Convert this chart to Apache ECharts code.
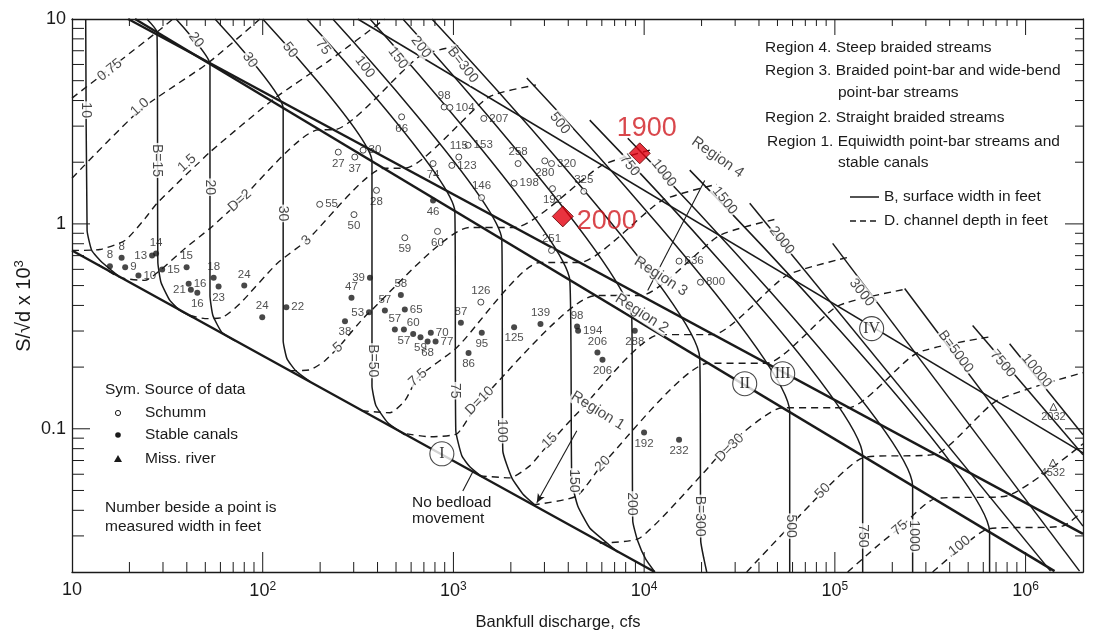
<!DOCTYPE html>
<html><head><meta charset="utf-8">
<script src="https://cdn.jsdelivr.net/npm/echarts/dist/echarts.min.js"></script>
<style>html,body{margin:0;padding:0;background:#fff}#c{width:1117px;height:635px}</style>
</head><body><div id="c"></div>
<script>
// ---------- axis ranges & tick labels ----------
const xRange = [10, 2000000];
const yRange = [0.02, 10];
const xTickLabels = {1:'10', 2:'{b|10}{s|2}', 3:'{b|10}{s|3}', 4:'{b|10}{s|4}', 5:'{b|10}{s|5}', 6:'{b|10}{s|6}'};
const yTickLabels = {'-1':'0.1', '0':'1', '1':'10'};

// ---------- data points [Q cfs, S/sqrt(d) x10^3, width label] ----------
const canalPts = [
 [15.8,0.622,'8'],[18.2,0.683,'8'],[19.0,0.615,'9'],[26.3,0.701,'13'],[27.6,0.717,'14'],
 [22.3,0.560,'10'],[29.7,0.599,'15'],[39.9,0.615,'15'],[40.9,0.510,'16'],[42.0,0.477,'21'],
 [45.4,0.461,'16'],[55.3,0.546,'18'],[58.7,0.495,'23'],[80.0,0.500,'24'],[99.4,0.350,'24'],
 [133,0.392,'22'],[782,1.30,'46'],[365,0.546,'39'],[292,0.436,'47'],[361,0.370,'53'],
 [437,0.378,'57'],[530,0.450,'58'],[556,0.382,'65'],[270,0.335,'38'],[493,0.305,'57'],
 [550,0.305,'57'],[615,0.290,'60'],[672,0.280,'59'],[761,0.294,'70'],[732,0.267,'68'],
 [806,0.267,'77'],[1094,0.329,'87'],[1408,0.294,'95'],[1200,0.2345,'86'],[2080,0.313,'125'],
 [2860,0.325,'139'],[4450,0.316,'98'],[4505,0.301,'194'],[5690,0.236,'206'],[6046,0.2175,'206'],
 [8930,0.301,'288'],[9990,0.0959,'192'],[15240,0.0884,'232']
];
const canalLabelPos = ['top','top','right','left','top','right','right','top','right','left',
 'bottom','top','bottom','top','top','right','bottom','left','top','left',
 'top','top','right','bottom','top','bottom','top','bottom','right','bottom',
 'right','top','bottom','bottom','bottom','top','top','right','top','bottom',
 'bottom','bottom','bottom'];
const schummPts = [
 [199,1.246,'55'],[301,1.11,'50'],[556,0.856,'59'],[825,0.919,'60'],[1392,0.415,'126'],
 [3268,0.742,'251'],[15240,0.658,'636'],[19730,0.519,'800'],[894,3.72,'98'],[958,3.70,'104'],
 [535,3.33,'66'],[1443,3.27,'207'],[1194,2.42,'153'],[1067,2.12,'115'],[981,1.93,'123'],
 [782,1.97,'74'],[249,2.24,'27'],[304,2.12,'37'],[336,2.29,'30'],[395,1.458,'28'],
 [1404,1.343,'146'],[2183,1.97,'258'],[2080,1.58,'198'],[3013,2.03,'280'],[3268,1.97,'320'],
 [3307,1.486,'192'],[4825,1.442,'325']
];
const schummLabelPos = ['right','bottom','bottom','bottom','top','top','right','right','top','right',
 'bottom','right','right','top','right','bottom','bottom','bottom','right','bottom',
 'top','top','right','bottom','right','bottom','top'];
const missPts = [[1400000,0.128,'2032'],[1390000,0.0684,'4532']];
const redPts = [[9480,2.21,'1900'],[3745,1.088,'2000']];

// ---------- boundary lines ----------
const lineI   = [[10,0.742],[11370,0.02]];
const lineII  = [[21.4,10],[1419000,0.0202]];
const lineIII = [[19.7,10],[2000000,0.0307]];
const lineIV  = [[315,10],[2000000,0.0763]];

// ---------- B curves (surface width, ft) ----------
const b10 = [[11.8,10],[12.0,0.929],[12.7,0.742],[14.4,0.648],[17.4,0.560]];
const b15 = [[24.7,10],[27.9,8.64],[28.2,0.648],[29.3,0.518],[32.6,0.423],[36.8,0.378],[43.1,0.349]];
const b20 = [[35.1,10],[52.9,6.03],[52.9,0.447],[54.8,0.357],[61.1,0.295],[71.5,0.269]];
const b30 = [[56.2,10],[128,3.67],[128,0.269],[134,0.220],[149,0.192],[177,0.170]];
const b50 = [[100,10],[374,2.02],[374,0.162],[392,0.130],[453,0.107],[556,0.0935]];
const b75 = [[170,10],[1017,1.15],[1029,0.0978],[1107,0.0738],[1219,0.0652],[1408,0.0583]];
const b100 = [[233,10],[1793,0.840],[1815,0.0780],[2024,0.0576],[2311,0.0481],[2671,0.0425]];
const b150 = [[365,10],[4075,0.530],[4174,0.0557],[4487,0.0420],[5185,0.0328],[6215,0.0283],[7271,0.0250]];
const b200 = [[543,10],[8610,0.349],[8714,0.0355],[9258,0.0283],[10190,0.0231],[11370,0.02]];
const b300 = [[771,10],[19560,0.2225],[19800,0.0283],[20530,0.0234],[21290,0.02]];
const b500 = [[2425,5.15],[57970,0.121],[57970,0.02]];
const b750 = [[5185,3.21],[139900,0.0738],[139900,0.02]];
const b1000 = [[8204,2.62],[255700,0.0526],[255700,0.02]];
const b1500 = [[17340,1.83],[647500,0.0313],[647500,0.02]];
const b2000 = [[35770,1.26],[1352000,0.0202]];
const b3000 = [[97380,0.803],[1919000,0.0202]];
const b5000 = [[232200,0.484],[2000000,0.0335]];
const b7500 = [[527700,0.319],[2000000,0.0746]];
const b10000 = [[824400,0.260],[2000000,0.0935]];

// ---------- D curves (channel depth, ft) ----------
const d075 = [[10,4.11],[27.9,8.64],[33.8,10]];
const d1 = [[10,1.67],[22.7,3.59],[51.6,6.09],[96.7,10]];
const d1p5 = [[10,0.742],[14.0,0.750],[18.95,0.830],[24.1,1.06],[27.9,1.26],[52.9,2.24],[116,4.11],[225,6.30],[437,10]];
const d2 = [[13.7,0.634],[17.8,0.548],[24.1,0.530],[28.9,0.592],[39.1,0.759],[52.9,0.951],[69.8,1.20],[197,2.88],[236,2.88],[667,6.59],[1120,7.46]];
const d3 = [[41.5,0.357],[49.8,0.345],[61.1,0.349],[75.9,0.408],[119,0.641],[170,0.830],[432,1.87],[556,1.87],[1532,4.16],[2704,4.76]];
const d5 = [[139,0.192],[177,0.194],[212,0.215],[254,0.2545],[352,0.361],[1219,0.961],[2098,0.961],[5995,1.93],[11090,2.31]];
const d7p5 = [[331,0.1225],[464,0.1197],[556,0.137],[651,0.1776],[1042,0.249],[2837,0.648],[4597,0.648],[12370,1.30],[24020,1.56]];
const d10 = [[570,0.0945],[752,0.0914],[1042,0.0945],[1219,0.1158],[1375,0.137],[5577,0.447],[9598,0.447],[24900,0.879],[50150,1.06]];
const d15 = [[1375,0.0589],[1975,0.0576],[2514,0.0659],[2942,0.078],[4435,0.1184],[12070,0.288],[22880,0.288],[55890,0.560],[116700,0.686]];
const d20 = [[2607,0.0425],[4435,0.047],[6067,0.0674],[21810,0.2089],[43900,0.2089],[103400,0.397],[235000,0.480]];
const d30 = [[5852,0.0277],[9483,0.0293],[20280,0.0603],[28100,0.0845],[53270,0.1267],[118100,0.1267],[268400,0.2337],[663300,0.282]];
const d50 = [[34500,0.02],[85270,0.0486],[139900,0.0721],[341600,0.0755],[704700,0.137],[2000000,0.1878]];
const d75 = [[116700,0.02],[171700,0.0274],[218600,0.0328],[333500,0.0455],[795100,0.047],[2000000,0.0845]];
const d100 = [[325500,0.02],[451000,0.0259],[632100,0.0324],[1563000,0.0335],[2000000,0.0397]];

// ---------- leaders ----------
const leaderBedload = [[1120,0.0497],[1264,0.0617]];
const leaderRegion1 = [[4435,0.0978],[2736,0.0435]];
const leaderRegion4 = [[20770,1.63],[10440,0.473]];

// ---------- curve labels [Q, S, text, rotation] ----------
const bLabels = [
 [11.8,3.59,'10',-90],[27.9,2.04,'B=15',-90],[44.7,7.90,'20',-52],[52.9,1.51,'20',-90],
 [85.7,6.30,'30',-55],[128,1.125,'30',-90],[139,7.05,'50',-52],[378,0.215,'B=50',-90],
 [207,7.30,'75',-52],[1017,0.1534,'75',-90],[343,5.83,'100',-53],[1793,0.0978,'100',-90],
 [511,6.45,'150',-53],[4276,0.0557,'150',-90],[675,7.30,'200',-53],[8610,0.0430,'200',-90],
 [1120,5.96,'B=300',-52],[19560,0.0375,'B=300',-90],[3612,3.10,'500',-52],[58670,0.0335,'500',-90],
 [8405,1.93,'750',-52],[139900,0.0300,'750',-90],[12670,1.77,'1000',-52],[258800,0.0300,'1000',-90],
 [26450,1.30,'1500',-52],[52640,0.830,'2000',-52],[138200,0.462,'3000',-52],[429800,0.2379,'B=5000',-53],
 [757700,0.2079,'7500',-50],[1142000,0.1921,'10000',-51]
];
const dLabels = [
 [15.8,5.63,'0.75',38],[22.7,3.71,'1.0',42],[40.1,1.98,'1.5',42],[75.9,1.30,'D=2',42],
 [170,0.830,'3',42],[248,0.2489,'5',40],[651,0.1776,'7.5',42],[1375,0.137,'D=10',45],
 [3201,0.0874,'15',45],[6067,0.0674,'20',45],[28100,0.0807,'D=30',45],[86330,0.0497,'50',45],
 [218600,0.0328,'75',40],[451000,0.0268,'100',38]
];
const regionLabels = [
 [5713,0.1225,'Region 1',-32],[9714,0.365,'Region 2',-33],[12220,0.554,'Region 3',-33],[24300,2.11,'Region 4',-35]
];
const romanMarks = [[869.6,0.0755,'I'],[33680,0.166,'II'],[53270,0.1857,'III'],[155900,0.3083,'IV']];

// ---------- build ----------
const FONT = 'Liberation Sans, Arial, Helvetica, sans-serif';
const INK = '#1a1a1a';
const TXT = 15.5;
const series = [];
function lineSeries(data, opts) {
  return Object.assign({type:'line', data, showSymbol:false, symbol:'none', silent:true, clip:true,
    animation:false, lineStyle:{color:INK, width:1.5}, z:2}, opts);
}
[lineI, lineII, lineIII].forEach(d => series.push(lineSeries(d, {lineStyle:{color:INK, width:2.4}, z:3})));
series.push(lineSeries(lineIV, {lineStyle:{color:INK, width:1.6}, z:3}));
[b10,b15,b20,b30,b50,b75,b100,b150,b200,b300,b500,b750,b1000,b1500,b2000,b3000,b5000,b7500,b10000]
  .forEach(d => series.push(lineSeries(d, {smooth:0.15, lineStyle:{color:INK, width:1.5}})));
[d075,d1,d1p5,d2,d3,d5,d7p5,d10,d15,d20,d30,d50,d75,d100]
  .forEach(d => series.push(lineSeries(d, {smooth:0.2, lineStyle:{color:INK, width:1.4, type:[7,5]}})));
series.push(lineSeries(leaderBedload, {lineStyle:{color:INK, width:1.1}}));
series.push(lineSeries(leaderRegion4, {lineStyle:{color:INK, width:1.1}}));
series.push(lineSeries(leaderRegion1.map((p,i)=>({value:p, symbol: i===1?'arrow':'none', symbolSize:[6,9], symbolRotate:150})),
  {lineStyle:{color:INK, width:1.1}, showSymbol:true, itemStyle:{color:INK}}));

function textSeries(arr, fontSize, z) {
  return {type:'scatter', silent:true, animation:false, z, symbolSize:1, itemStyle:{color:'rgba(0,0,0,0)'},
    data: arr.map(a => ({value:[a[0],a[1]], name:a[2], label:{rotate:a[3]}})),
    label:{show:true, position:'inside', formatter:p=>p.name, color:INK, fontFamily:FONT, fontSize,
      backgroundColor:'#fff', padding:[0,1]}};
}
series.push(textSeries(bLabels, 14, 6));
series.push(textSeries(dLabels, 14, 6));
series.push(textSeries(regionLabels, 15, 6));

series.push({type:'scatter', silent:true, animation:false, z:7, symbol:'circle', symbolSize:24,
  itemStyle:{color:'#fff', borderColor:INK, borderWidth:1.1},
  data: romanMarks.map(a=>({value:[a[0],a[1]], name:a[2]})),
  label:{show:true, position:'inside', formatter:p=>p.name, color:'#000', fontFamily:'Liberation Serif, DejaVu Serif, serif', fontSize:16}});

function ptLabel(pos){ return {position:pos, distance:2}; }
series.push({type:'scatter', silent:true, animation:false, z:8, symbol:'circle', symbolSize:6,
  itemStyle:{color:INK},
  data: canalPts.map((a,i)=>({value:[a[0],a[1]], name:a[2], label:ptLabel(canalLabelPos[i])})),
  label:{show:true, formatter:p=>p.name, color:'#222', fontFamily:FONT, fontSize:11.5}});
series.push({type:'scatter', silent:true, animation:false, z:8, symbol:'circle', symbolSize:6,
  itemStyle:{color:'#fff', borderColor:INK, borderWidth:1},
  data: schummPts.map((a,i)=>({value:[a[0],a[1]], name:a[2], label:ptLabel(schummLabelPos[i])})),
  label:{show:true, formatter:p=>p.name, color:'#222', fontFamily:FONT, fontSize:11.5}});
series.push({type:'scatter', silent:true, animation:false, z:8, symbol:'triangle', symbolSize:7,
  itemStyle:{color:'#fff', borderColor:INK, borderWidth:1},
  data: missPts.map(a=>({value:[a[0],a[1]], name:a[2]})),
  label:{show:true, position:'bottom', distance:1, formatter:p=>p.name, color:'#222', fontFamily:FONT, fontSize:11}});
series.push({type:'scatter', silent:true, animation:false, z:9, symbol:'diamond', symbolSize:[21,21],
  itemStyle:{color:'#e3000f', borderColor:'#5a0000', borderWidth:1},
  data: [
    {value:[redPts[0][0],redPts[0][1]], name:redPts[0][2], label:{position:'top', distance:0, offset:[7,0]}},
    {value:[redPts[1][0],redPts[1][1]], name:redPts[1][2], label:{position:'right', distance:3, offset:[0,5]}}
  ],
  label:{show:true, formatter:p=>p.name, color:'#d0191f', fontFamily:FONT, fontSize:27}});

// ticks (inside, with log minor ticks)
series.push({type:'custom', silent:true, animation:false, z:10, data:[0],
  renderItem(params, api) {
    const ch = [];
    const st = {stroke:INK, lineWidth:1};
    for (let e=1; e<=6; e++) for (let m=1; m<10; m++) {
      const v = m*Math.pow(10,e);
      if (v<=xRange[0] || v>=xRange[1]) continue;
      const b = api.coord([v, yRange[0]]), t = api.coord([v, yRange[1]]);
      const maj = m===1;
      ch.push({type:'line', shape:{x1:b[0],y1:b[1],x2:b[0],y2:b[1]-(maj?20:10)}, style:st});
      ch.push({type:'line', shape:{x1:t[0],y1:t[1],x2:t[0],y2:t[1]+(maj?16:7)}, style:st});
    }
    for (let e=-2; e<=1; e++) for (let m=1; m<10; m++) {
      const v = m*Math.pow(10,e);
      if (v<=yRange[0]*1.0001 || v>=yRange[1]*0.9999) continue;
      const l = api.coord([xRange[0], v]), r = api.coord([xRange[1], v]);
      const maj = m===1;
      ch.push({type:'line', shape:{x1:l[0],y1:l[1],x2:l[0]+(maj?18:12),y2:l[1]}, style:st});
      ch.push({type:'line', shape:{x1:r[0],y1:r[1],x2:r[0]-(maj?18:8),y2:r[1]}, style:st});
    }
    return {type:'group', children:ch};
  }});

function isPow(v){ const l=Math.log10(v); return Math.abs(l-Math.round(l))<1e-6; }
const axisLineStyle = {show:true, lineStyle:{color:INK, width:1.3}};
const option = {
  backgroundColor:'#fff',
  animation:false,
  grid:{left:72, right:34, top:19, bottom:63},
  xAxis:[
    {type:'log', logBase:10, min:xRange[0], max:xRange[1], axisLine:axisLineStyle, axisTick:{show:false}, splitLine:{show:false},
     axisLabel:{margin:9, color:INK, fontFamily:FONT, fontSize:18,
       formatter:v=> isPow(v) ? (xTickLabels[Math.round(Math.log10(v))]||'') : '',
       rich:{b:{fontSize:18, fontFamily:FONT, color:INK}, s:{fontSize:12, fontFamily:FONT, color:INK, padding:[0,0,9,0]}}}},
    {type:'log', logBase:10, position:'top', min:xRange[0], max:xRange[1], axisLine:axisLineStyle, axisTick:{show:false}, axisLabel:{show:false}, splitLine:{show:false}}
  ],
  yAxis:[
    {type:'log', logBase:10, min:yRange[0], max:yRange[1], axisLine:axisLineStyle, axisTick:{show:false}, splitLine:{show:false},
     axisLabel:{margin:6, color:INK, fontFamily:FONT, fontSize:18,
       formatter:v=> isPow(v) ? (yTickLabels[String(Math.round(Math.log10(v)))]||'') : ''}},
    {type:'log', logBase:10, position:'right', min:yRange[0], max:yRange[1], axisLine:axisLineStyle, axisTick:{show:false}, axisLabel:{show:false}, splitLine:{show:false}}
  ],
  series,
  graphic:[
    {type:'text', x:558, y:622, style:{text:'Bankfull discharge, cfs', font:'16.5px '+FONT, fill:INK, align:'center', verticalAlign:'middle'}},
    {type:'text', x:24, y:306, rotation:Math.PI/2, style:{text:'{a|S/√d x 10}{s|3}', fill:INK, align:'center', verticalAlign:'middle',
       rich:{a:{fontSize:20, fontFamily:FONT, color:INK}, s:{fontSize:13, fontFamily:FONT, color:INK, padding:[0,0,10,0]}}}},
    // region legend
    {type:'text', x:765, y:48, style:{text:'Region 4. Steep braided streams', font:TXT+'px '+FONT, fill:INK, verticalAlign:'middle'}},
    {type:'text', x:765, y:71, style:{text:'Region 3. Braided point-bar and wide-bend', font:TXT+'px '+FONT, fill:INK, verticalAlign:'middle'}},
    {type:'text', x:838, y:93, style:{text:'point-bar streams', font:TXT+'px '+FONT, fill:INK, verticalAlign:'middle'}},
    {type:'text', x:765, y:118, style:{text:'Region 2. Straight braided streams', font:TXT+'px '+FONT, fill:INK, verticalAlign:'middle'}},
    {type:'text', x:767, y:142, style:{text:'Region 1. Equiwidth point-bar streams and', font:TXT+'px '+FONT, fill:INK, verticalAlign:'middle'}},
    {type:'text', x:838, y:163, style:{text:'stable canals', font:TXT+'px '+FONT, fill:INK, verticalAlign:'middle'}},
    {type:'line', shape:{x1:850,y1:197,x2:879,y2:197}, style:{stroke:INK, lineWidth:1.5}},
    {type:'text', x:884, y:197, style:{text:'B, surface width in feet', font:TXT+'px '+FONT, fill:INK, verticalAlign:'middle'}},
    {type:'line', shape:{x1:850,y1:221,x2:879,y2:221}, style:{stroke:INK, lineWidth:1.4, lineDash:[6,4]}},
    {type:'text', x:884, y:221, style:{text:'D. channel depth in feet', font:TXT+'px '+FONT, fill:INK, verticalAlign:'middle'}},
    // source legend
    {type:'text', x:105, y:390, style:{text:'Sym. Source of data', font:TXT+'px '+FONT, fill:INK, verticalAlign:'middle'}},
    {type:'circle', shape:{cx:118, cy:413, r:2.6}, style:{fill:'#fff', stroke:INK, lineWidth:1}},
    {type:'text', x:145, y:413, style:{text:'Schumm', font:TXT+'px '+FONT, fill:INK, verticalAlign:'middle'}},
    {type:'circle', shape:{cx:118, cy:435, r:2.8}, style:{fill:INK}},
    {type:'text', x:145, y:435, style:{text:'Stable canals', font:TXT+'px '+FONT, fill:INK, verticalAlign:'middle'}},
    {type:'polygon', shape:{points:[[118,455],[114,462],[122,462]]}, style:{fill:INK}},
    {type:'text', x:145, y:459, style:{text:'Miss. river', font:TXT+'px '+FONT, fill:INK, verticalAlign:'middle'}},
    {type:'text', x:105, y:508, style:{text:'Number beside a point is', font:TXT+'px '+FONT, fill:INK, verticalAlign:'middle'}},
    {type:'text', x:105, y:527, style:{text:'measured width in feet', font:TXT+'px '+FONT, fill:INK, verticalAlign:'middle'}},
    {type:'text', x:412, y:503, style:{text:'No bedload', font:TXT+'px '+FONT, fill:INK, verticalAlign:'middle'}},
    {type:'text', x:412, y:519, style:{text:'movement', font:TXT+'px '+FONT, fill:INK, verticalAlign:'middle'}}
  ]
};
const chart = echarts.init(document.getElementById('c'), null, {renderer:'canvas'});
chart.setOption(option);
</script>
</body></html>
